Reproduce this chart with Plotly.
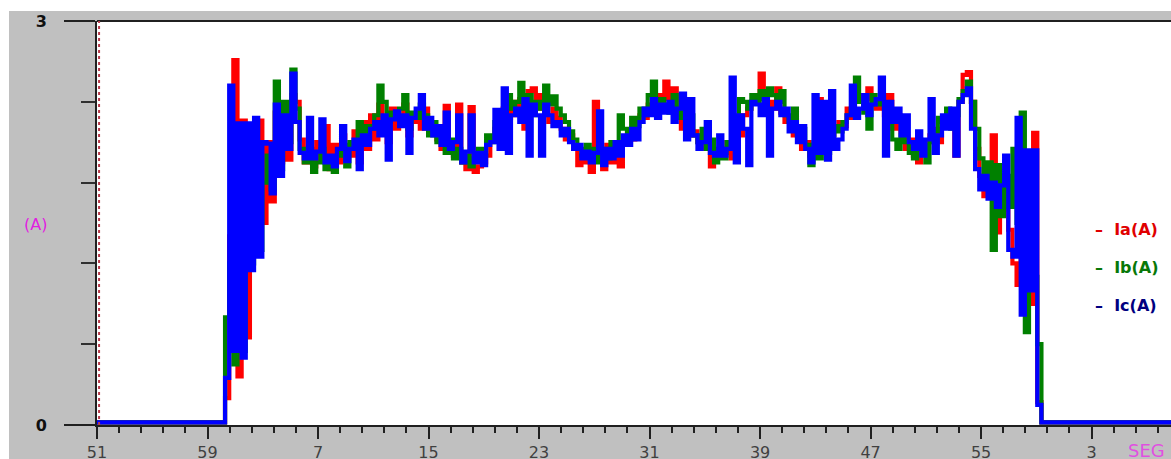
import numpy as np
import plotly.graph_objects as go

# Phase currents (A), one sample every SAMPLE_DT seconds starting at SAMPLE_T0
# (time measured in seconds from the "51" mark of the time axis).
SAMPLE_T0 = 9.27
SAMPLE_DT = 0.30
IDLE_LEVEL = 0.02          # current while the motor is stopped
TRACE_END = 77.75          # right edge of the recorded window

ia = [
    0.20, 1.40, 2.71, 0.36, 2.26, 0.65, 2.05, 1.45, 2.26, 1.50,
    2.10, 1.66, 2.32, 1.95, 2.28, 1.97, 2.45, 2.40, 2.12, 1.95,
    2.05, 1.92, 2.10, 1.98, 2.22, 1.90, 2.08, 1.95, 2.15, 2.02,
    2.00, 2.18, 1.95, 2.25, 2.05, 2.30, 2.12, 2.38, 2.20, 2.10,
    2.35, 2.20, 2.28, 2.38, 2.15, 2.25, 2.30, 2.20, 2.35, 2.18,
    2.20, 2.12, 2.05, 2.37, 2.02, 2.00, 2.38, 1.95, 1.90, 2.36,
    1.88, 1.92, 1.95, 2.00, 2.12, 2.20, 2.18, 2.35, 2.28, 2.40,
    2.30, 2.42, 2.20, 2.48, 2.50, 2.35, 2.45, 2.30, 2.25, 2.35,
    2.28, 2.20, 2.12, 2.15, 2.05, 1.93, 2.00, 1.95, 1.88, 2.40,
    2.00, 1.90, 2.08, 1.95, 2.05, 1.92, 2.10, 2.18, 2.12, 2.25,
    2.30, 2.28, 2.38, 2.35, 2.45, 2.40, 2.55, 2.42, 2.50, 2.30,
    2.20, 2.25, 2.15, 2.18, 2.10, 2.05, 2.12, 1.92, 2.02, 2.05,
    2.02, 2.10, 1.98, 2.20, 2.15, 2.30, 2.35, 2.40, 2.45, 2.61,
    2.45, 2.40, 2.35, 2.50, 2.32, 2.25, 2.28, 2.15, 2.20, 2.05,
    2.10, 2.00, 2.08, 2.42, 2.12, 2.05, 2.15, 2.20, 2.25, 2.22,
    2.35, 2.28, 2.40, 2.45, 2.38, 2.50, 2.42, 2.35, 2.40, 2.30,
    2.45, 2.20, 2.30, 2.18, 2.05, 2.12, 2.00, 1.95, 2.08, 2.10,
    2.15, 2.20, 2.10, 2.25, 2.30, 2.28, 2.00, 2.40, 2.60, 2.62,
    2.40, 2.05, 1.85, 1.70, 1.80, 2.15, 1.43, 1.75, 1.60, 1.45,
    1.20, 1.04, 1.40, 1.90, 0.90, 2.17, 0.17, 0.02,
]

ib = [
    0.80, 1.20, 0.45, 1.60, 0.55, 2.12, 1.20, 1.70, 1.30, 1.80,
    2.00, 1.75, 2.55, 1.90, 2.40, 2.10, 2.64, 2.35, 2.05, 1.95,
    2.00, 1.88, 1.95, 2.05, 1.90, 1.97, 1.88, 2.00, 2.08, 1.92,
    2.10, 2.05, 2.25, 2.15, 2.22, 2.20, 2.30, 2.52, 2.40, 2.25,
    2.32, 2.28, 2.35, 2.45, 2.20, 2.32, 2.28, 2.38, 2.30, 2.15,
    2.25, 2.10, 2.18, 2.02, 2.12, 1.98, 2.05, 1.95, 2.00, 1.92,
    1.98, 2.05, 2.00, 2.15, 2.10, 2.25, 2.30, 2.20, 2.45, 2.35,
    2.40, 2.54, 2.35, 2.45, 2.30, 2.40, 2.35, 2.52, 2.38, 2.44,
    2.35, 2.30, 2.25, 2.18, 2.12, 2.05, 2.00, 2.08, 1.98, 2.05,
    1.95, 2.05, 1.98, 2.10, 2.02, 2.30, 2.20, 2.12, 2.28, 2.22,
    2.35, 2.30, 2.45, 2.55, 2.35, 2.42, 2.38, 2.32, 2.45, 2.28,
    2.35, 2.20, 2.30, 2.15, 2.10, 2.20, 2.05, 2.12, 1.95, 2.05,
    1.98, 2.10, 2.05, 2.15, 2.42, 2.40, 2.35, 2.45, 2.40, 2.48,
    2.42, 2.50, 2.45, 2.40, 2.48, 2.30, 2.25, 2.35, 2.15, 2.20,
    2.08, 1.93, 2.10, 1.98, 2.05, 2.02, 2.15, 2.22, 2.18, 2.25,
    2.30, 2.35, 2.58, 2.40, 2.32, 2.20, 2.45, 2.38, 2.42, 2.35,
    2.30, 2.12, 2.05, 2.15, 2.10, 2.02, 1.98, 2.12, 2.08, 1.95,
    2.10, 2.18, 2.28, 2.25, 2.35, 2.20, 2.30, 2.42, 2.48, 2.55,
    2.40, 2.20, 1.98, 1.78, 1.95, 1.30, 1.93, 1.55, 1.85, 1.62,
    2.05, 1.50, 2.32, 0.69, 1.65, 1.10, 0.60, 0.02,
]

ic = [
    0.35, 2.52, 0.55, 2.24, 0.50, 2.24, 1.15, 2.28, 1.25, 2.10,
    2.09, 1.72, 2.38, 1.85, 2.30, 2.05, 2.61, 2.25, 2.02, 1.98,
    2.28, 1.98, 2.03, 2.27, 1.95, 2.00, 1.92, 2.05, 2.22, 1.96,
    2.05, 2.12, 1.90, 2.15, 2.08, 2.20, 2.25, 2.15, 2.30, 1.97,
    2.27, 2.33, 2.22, 2.30, 2.02, 2.28, 2.35, 2.45, 2.20, 2.28,
    2.15, 2.22, 2.08, 2.32, 2.05, 2.10, 2.30, 1.95, 2.03, 2.30,
    1.95, 2.02, 1.93, 2.08, 2.10, 2.34, 2.05, 2.50, 2.02, 2.30,
    2.35, 2.25, 2.42, 2.00, 2.38, 2.30, 2.00, 2.38, 2.30, 2.22,
    2.25, 2.15, 2.20, 2.10, 2.05, 2.08, 1.98, 2.03, 1.95, 2.02,
    2.33, 1.93, 2.05, 1.98, 2.10, 2.00, 2.15, 2.08, 2.20, 2.12,
    2.25, 2.35, 2.30, 2.42, 2.28, 2.38, 2.32, 2.40, 2.25, 2.35,
    2.46, 2.12, 2.42, 2.15, 2.05, 2.10, 2.25, 2.02, 2.00, 2.15,
    2.00, 2.05, 2.58, 1.95, 2.30, 2.20, 1.93, 2.40, 2.38, 2.30,
    2.42, 2.00, 2.35, 2.40, 2.30, 2.35, 2.18, 2.25, 2.10, 2.22,
    2.05, 1.95, 2.45, 2.02, 2.40, 1.97, 2.48, 2.05, 2.12, 2.20,
    2.30, 2.52, 2.28, 2.35, 2.45, 2.30, 2.38, 2.42, 2.58, 2.00,
    2.40, 2.25, 2.35, 2.15, 2.30, 2.10, 2.05, 2.18, 2.00, 2.12,
    2.42, 2.02, 2.15, 2.30, 2.20, 2.35, 2.00, 2.40, 2.45, 2.50,
    2.20, 1.90, 1.75, 1.85, 1.68, 1.80, 1.62, 1.78, 2.00, 1.30,
    1.25, 2.28, 0.82, 2.04, 1.00, 2.04, 0.15, 0.02,
]

# Time axis: major ticks every 8 s, labelled with the wall-clock seconds
x_tickvals = [0, 8, 16, 24, 32, 40, 48, 56, 64, 72]
x_ticktext = ["51", "59", "7", "15", "23", "31", "39", "47", "55", "3"]

series = [
    ("Ia(A)", ia, "#ff0000", "#e00000"),
    ("Ib(A)", ib, "#008000", "#087808"),
    ("Ic(A)", ic, "#0000ff", "#000080"),
]

GRAY = "#c0c0c0"
W, H = 1171, 459
ML, MT, MR, MB = 97, 21, 0, 34
PW, PH = W - ML - MR, H - MT - MB


def px_to_paper_x(px):
    return (px - ML) / PW


def px_to_paper_y(py):
    return (H - MB - py) / PH


fig = go.Figure()
for name, vals, color, _ in series:
    n = len(vals)
    t = SAMPLE_T0 + SAMPLE_DT * np.arange(n)
    t_full = np.concatenate([[0.0], t, [TRACE_END]])
    v_full = np.concatenate([[IDLE_LEVEL], vals, [IDLE_LEVEL]])
    fig.add_trace(go.Scatter(
        x=t_full, y=v_full, mode="lines", name=name,
        line=dict(color=color, width=4.2, shape="hv", simplify=False),
        showlegend=False, hoverinfo="skip",
    ))

shapes = [
    # white strips around the grey frame
    dict(type="rect", xref="paper", yref="paper", layer="below",
         x0=px_to_paper_x(0), x1=1.0, y0=px_to_paper_y(11), y1=px_to_paper_y(0),
         fillcolor="white", line=dict(width=0)),
    dict(type="rect", xref="paper", yref="paper", layer="below",
         x0=px_to_paper_x(0), x1=px_to_paper_x(9), y0=px_to_paper_y(H), y1=px_to_paper_y(0),
         fillcolor="white", line=dict(width=0)),
    # top border of the plotting area
    dict(type="line", xref="paper", yref="paper", x0=0, x1=1, y0=1, y1=1,
         line=dict(color="#202020", width=2)),
    # cursor marker at the start of the record
    dict(type="line", xref="x", yref="paper", x0=0.15, x1=0.15, y0=0, y1=1,
         line=dict(color="#b83a4a", width=2, dash="dot")),
]

annotations = [
    dict(text="(A)", xref="paper", yref="paper", xanchor="center", yanchor="middle",
         x=px_to_paper_x(35), y=px_to_paper_y(224), showarrow=False,
         font=dict(family="DejaVu Sans, Verdana", size=16, color="#e020e0")),
    dict(text="SEG", xref="paper", yref="paper",
         xanchor="center", yanchor="middle",
         x=px_to_paper_x(1146), y=px_to_paper_y(450), showarrow=False,
         font=dict(family="DejaVu Sans, Verdana", size=18, color="#e050e0")),
]
label_rows = [229, 267, 305]
for (name, _, _, tcolor), row in zip(series, label_rows):
    annotations.append(dict(
        text="\u2013\u00a0\u00a0" + name, xref="paper", yref="paper",
        x=px_to_paper_x(1093), y=px_to_paper_y(row),
        xanchor="left", yanchor="middle", showarrow=False,
        font=dict(family="DejaVu Sans, Verdana", size=16, color=tcolor,
                  weight="bold"),
    ))

fig.update_layout(
    width=W, height=H,
    margin=dict(l=ML, r=MR, t=MT, b=MB, pad=0, autoexpand=False),
    paper_bgcolor=GRAY, plot_bgcolor="white",
    shapes=shapes, annotations=annotations,
    xaxis=dict(
        range=[0, TRACE_END], tickmode="array",
        tickvals=x_tickvals, ticktext=x_ticktext, automargin=False,
        showgrid=False, zeroline=False,
        showline=True, linecolor="#202020", linewidth=2,
        ticks="outside", ticklen=12, tickwidth=2, tickcolor="#202020",
        ticklabelstandoff=0,
        tickfont=dict(family="DejaVu Sans, Verdana", size=16, color="#404040"),
        minor=dict(ticks="outside", ticklen=6, tickwidth=1.5, tickcolor="#202020",
                   dtick=1.6, tick0=0, showgrid=False),
    ),
    yaxis=dict(
        range=[0, 3], tickmode="array", tickvals=[0, 3], ticktext=["0", "3"],
        automargin=False,
        showgrid=False, zeroline=False,
        showline=True, linecolor="#202020", linewidth=2,
        ticks="outside", ticklen=31, tickwidth=1.5, tickcolor="#202020",
        ticklabelstandoff=14,
        tickfont=dict(family="DejaVu Sans, Verdana", size=16, color="#101010",
                      weight="bold"),
        minor=dict(ticks="outside", ticklen=14, tickwidth=1.5, tickcolor="#303030",
                   tickvals=[0.6, 1.2, 1.8, 2.4], showgrid=False),
    ),
)

fig.write_html("out.html")
